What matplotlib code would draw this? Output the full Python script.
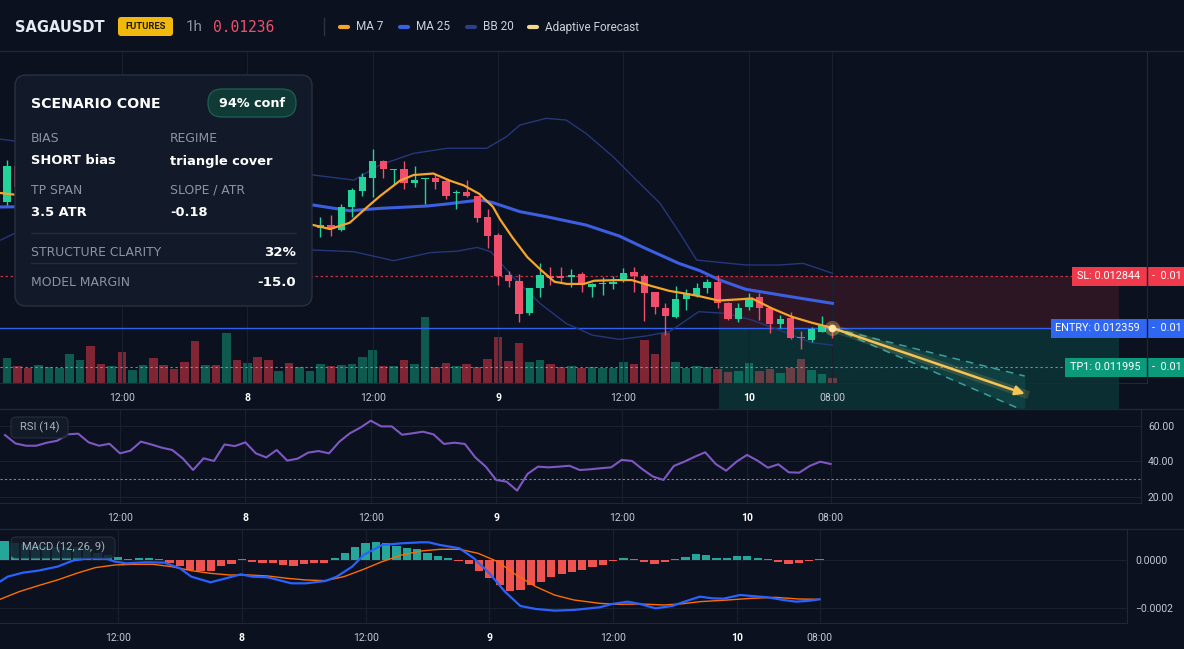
import numpy as np
import matplotlib
matplotlib.use("Agg")
import matplotlib.pyplot as plt
from matplotlib.patches import FancyBboxPatch, Rectangle
from matplotlib.lines import Line2D
from matplotlib.transforms import Affine2D

plt.rcParams['font.family'] = ['Roboto', 'DejaVu Sans']

# ---------------- data ----------------
# hourly candles, index 0 = day 7 01:00, index 79 = day 10 08:00
# prices in thousandths of USDT; candles 2..29 sit behind the info card
nan = np.nan
open_k = [13.534, 13.870] + [nan] * 28 + [
    13.289, 13.320, 13.273, 13.484, 13.637, 13.761, 13.917, 13.833, 13.839, 13.715,
    13.746, 13.761, 13.733, 13.615, 13.631, 13.590, 13.391, 13.226, 12.853, 12.797,
    12.496, 12.729, 12.847, 12.847, 12.838, 12.859, 12.744, 12.769, 12.769, 12.806,
    12.878, 12.844, 12.691, 12.542, 12.464, 12.626, 12.667, 12.735, 12.785, 12.589,
    12.443, 12.552, 12.645, 12.542, 12.396, 12.449, 12.272, 12.247, 12.325, 12.362]
high_k = [13.926, 13.900] + [nan] * 28 + [
    13.391, 13.413, 13.516, 13.662, 13.808, 14.026, 13.930, 13.842, 13.920, 13.870,
    13.761, 13.792, 13.746, 13.646, 13.740, 13.595, 13.466, 13.242, 12.894, 12.859,
    12.735, 12.962, 12.931, 12.931, 12.906, 12.884, 12.782, 12.838, 12.847, 12.922,
    12.931, 12.859, 12.698, 12.589, 12.751, 12.719, 12.775, 12.813, 12.853, 12.605,
    12.589, 12.682, 12.689, 12.552, 12.480, 12.511, 12.334, 12.365, 12.471, 12.387]
low_k = [13.506, 13.640] + [nan] * 28 + [
    13.211, 13.217, 13.265, 13.397, 13.590, 13.584, 13.755, 13.693, 13.656, 13.677,
    13.516, 13.656, 13.562, 13.469, 13.584, 13.351, 13.102, 12.760, 12.744, 12.418,
    12.480, 12.651, 12.760, 12.791, 12.744, 12.698, 12.645, 12.667, 12.723, 12.791,
    12.698, 12.427, 12.489, 12.295, 12.449, 12.527, 12.651, 12.682, 12.542, 12.434,
    12.418, 12.527, 12.434, 12.309, 12.356, 12.253, 12.160, 12.231, 12.325, 12.262]
close_k = [13.870, 13.674] + [nan] * 28 + [
    13.320, 13.279, 13.484, 13.646, 13.771, 13.917, 13.839, 13.842, 13.715, 13.740,
    13.761, 13.724, 13.593, 13.624, 13.593, 13.382, 13.217, 12.844, 12.800, 12.489,
    12.735, 12.853, 12.822, 12.828, 12.850, 12.766, 12.769, 12.782, 12.791, 12.869,
    12.844, 12.688, 12.552, 12.474, 12.626, 12.682, 12.729, 12.791, 12.589, 12.443,
    12.542, 12.636, 12.542, 12.396, 12.443, 12.269, 12.262, 12.350, 12.387, 12.359]

volume = [75, 52, 46, 55, 49, 44, 88, 70, 112, 58,
          52, 94, 40, 55, 76, 55, 43, 64, 127, 55,
          55, 151, 70, 61, 79, 70, 37, 61, 49, 37,
          58, 52, 55, 58, 79, 100, 52, 52, 70, 58,
          198, 49, 61, 52, 58, 49, 73, 139, 67, 121,
          64, 70, 58, 49, 52, 46, 49, 46, 46, 64,
          58, 130, 88, 151, 64, 44, 52, 49, 43, 34,
          37, 61, 37, 43, 31, 45, 73, 40, 28, 16]
vol_side = ("GRRGGGGGRR" "GRGGRRRRRG" "RGRGRRGRGG" "GRGGGGRGRG"
            "GRRGRRRRRR" "GGRRGRGGGG" "RRRRGGGGRR" "GGRRGRRGGR")

# moving averages / bands read at these hour positions
ma7_x = [-0.6, 1, 29.3, 30.9, 32.8, 34.4, 35.7, 37.6, 38.9, 40.8, 42.4, 43.7, 45.2,
         46.5, 47.2, 48.4, 49.8, 51.1, 52.4, 53.6, 55.2, 56.2, 58.4, 59.8, 61.7,
         63.4, 64.8, 66.3, 68.1, 70.0, 71.3, 73.2, 75.1, 77.0, 79.0]
ma7_k = [13.618, 13.60, 13.320, 13.282, 13.341, 13.481, 13.590, 13.733, 13.786, 13.800,
         13.733, 13.690, 13.610, 13.490, 13.370, 13.200, 13.020, 12.900, 12.790, 12.770,
         12.770, 12.800, 12.806, 12.806, 12.750, 12.705, 12.682, 12.655, 12.615, 12.626,
         12.635, 12.542, 12.464, 12.409, 12.359]
ma25_x = [-0.6, 1, 29.3, 32.8, 35.7, 40.2, 42.1, 44.7, 45.5, 46.5, 49.1, 51.6, 55.4,
          58.6, 61.1, 64.3, 66.3, 68.2, 70.7, 73.2, 75.7, 79.0]
ma25_k = [13.488, 13.490, 13.506, 13.453, 13.475, 13.497, 13.516, 13.547, 13.550, 13.528,
          13.444, 13.398, 13.320, 13.217, 13.102, 12.962, 12.894, 12.807, 12.720, 12.680,
          12.640, 12.589]
bb_up_x = [-0.6, 1, 29.3, 33.2, 35.7, 38.9, 42.1, 45.9, 47.8, 49.1, 51.6, 53.5, 55.4,
           58.0, 59.9, 62.5, 64.4, 66.0, 67.5, 70.7, 73.9, 76.2, 79.0]
bb_up_k = [14.12, 14.10, 13.786, 13.739, 13.880, 13.988, 14.035, 14.035, 14.144, 14.253,
           14.315, 14.299, 14.175, 13.957, 13.771, 13.522, 13.242, 12.993, 12.978, 12.947,
           12.947, 12.962, 12.869]
bb_lo_x = [-0.6, 0.8, 29.3, 33.2, 37.0, 40.5, 43.1, 45.0, 46.3, 48.4, 51.0, 53.5, 56.0,
           58.6, 61.1, 63.4, 66.2, 68.8, 71.3, 73.9, 77.0, 79.0]
bb_lo_k = [13.180, 13.245, 13.086, 13.071, 12.987, 13.062, 13.076, 13.111, 13.071, 12.838,
           12.589, 12.402, 12.293, 12.253, 12.284, 12.325, 12.511, 12.496, 12.433, 12.340,
           12.222, 12.200]

rsi = [54.9, 50.2, 48.9, 48.9, 50.6, 51.7, 55.3, 55.7, 50.8, 48.9,
       50.0, 44.6, 46.1, 51.2, 49.6, 47.8, 46.5, 41.8, 35.2, 41.8,
       40.3, 49.6, 48.7, 50.8, 44.6, 42.3, 46.5, 40.5, 41.6, 45.0,
       45.9, 44.6, 51.2, 55.9, 59.1, 63.0, 59.8, 59.8, 55.1, 55.9,
       56.8, 55.3, 49.9, 50.6, 49.9, 42.3, 37.1, 29.6, 28.6, 23.6,
       33.0, 37.1, 36.7, 37.1, 37.6, 35.2, 35.6, 36.2, 36.7, 40.9,
       40.3, 35.6, 31.5, 29.6, 37.5, 39.9, 42.7, 45.2, 38.6, 34.8,
       39.9, 43.7, 40.5, 36.5, 38.4, 33.9, 33.7, 37.5, 39.9, 38.6]

# MACD values in units of 1e-4
macd_hist = [0.79, 0.72, 0.66, 0.62, 0.58, 0.55, 0.55, 0.52, 0.42, 0.30,
             0.20, 0.14, 0.03, 0.07, 0.10, 0.04, -0.11, -0.25, -0.42, -0.44,
             -0.46, -0.25, -0.17, 0.04, -0.08, -0.14, -0.11, -0.21, -0.24, -0.18,
             -0.14, -0.11, 0.08, 0.29, 0.53, 0.69, 0.75, 0.69, 0.58, 0.51,
             0.44, 0.31, 0.17, 0.08, -0.04, -0.18, -0.46, -0.76, -1.04, -1.28,
             -1.25, -1.04, -0.90, -0.69, -0.58, -0.51, -0.42, -0.28, -0.21, -0.04,
             0.07, 0.04, -0.08, -0.15, -0.08, 0.04, 0.14, 0.25, 0.21, 0.08,
             0.08, 0.17, 0.17, 0.10, 0.06, -0.08, -0.15, -0.13, -0.04, 0.04]
macd_x = [-0.44, 0.31, 1.79, 3.27, 5.13, 6.61, 8.1, 9.95, 10.7, 11.8, 13.7, 15.5, 17.0,
          18.1, 19.96, 21.1, 22.9, 24.0, 25.5, 27.8, 29.2, 31.1, 32.2, 33.7, 34.8, 36.6,
          38.5, 40.4, 41.1, 42.2, 44.1, 45.5, 47.0, 48.5, 50.0, 51.5, 53.3, 55.2, 57.7,
          58.9, 60.4, 61.6, 63.1, 64.7, 66.2, 67.4, 68.6, 69.7, 71.3, 72.4, 74.0, 75.5,
          76.7, 77.8, 79.0]
macd_line = [-0.90, -0.694, -0.528, -0.444, -0.278, -0.028, 0.069, 0.042, -0.069, -0.139,
             -0.097, -0.111, -0.347, -0.694, -0.931, -0.806, -0.597, -0.694, -0.722, -0.972,
             -0.972, -0.875, -0.694, -0.278, 0.208, 0.625, 0.694, 0.736, 0.736, 0.625,
             0.486, 0.069, -0.556, -1.319, -1.917, -2.04, -2.11, -2.08, -1.97, -1.833,
             -1.736, -1.833, -2.014, -1.917, -1.694, -1.528, -1.597, -1.611, -1.458, -1.50,
             -1.556, -1.667, -1.736, -1.708, -1.639]
signal_x = [-0.44, 1.42, 3.27, 5.13, 6.98, 8.8, 10.7, 12.5, 14.4, 16.2, 18.1, 19.96, 21.8,
            23.7, 25.5, 27.4, 29.2, 31.1, 32.9, 34.8, 36.6, 38.5, 40.4, 42.2, 44.1, 45.9,
            47.8, 49.6, 51.5, 53.3, 55.2, 57.7, 59.2, 61.6, 63.9, 65.5, 67.4, 70.1, 72.4,
            74.7, 77.0, 79.0]
signal_line = [-1.639, -1.319, -1.069, -0.833, -0.556, -0.319, -0.208, -0.181, -0.181,
               -0.278, -0.444, -0.556, -0.625, -0.625, -0.667, -0.764, -0.833, -0.861,
               -0.694, -0.389, -0.069, 0.208, 0.375, 0.444, 0.444, 0.278, -0.069, -0.625,
               -1.111, -1.458, -1.667, -1.806, -1.847, -1.833, -1.875, -1.833, -1.736,
               -1.667, -1.597, -1.556, -1.625, -1.639]

sl, entry, tp1 = 0.012844, 0.012359, 0.011995
last_price = "0.01236"
zone_start, zone_end = 68.1, 106.4
forecast_x = [79, 97.4]
forecast_mid_k = [12.359, 11.745]
forecast_hi_k = [12.359, 11.911]
forecast_lo_k = [12.359, 11.584]

tick_pos = [11, 23, 35, 47, 59, 71, 79]
tick_lab = ['12:00', '8', '12:00', '9', '12:00', '10', '08:00']
day_labels = ['8', '9', '10']

card_pairs = [("BIAS", "SHORT bias", "REGIME", "triangle cover"),
              ("TP SPAN", "3.5 ATR", "SLOPE / ATR", "-0.18")]
card_stats = [("STRUCTURE CLARITY", "32%"), ("MODEL MARGIN", "-15.0")]
confidence = "94% conf"

# ---------------- style ----------------
W, H = 1184, 649
BG = '#0b111e'
GRID = '#192130'
BORDER = '#1f2837'
TICK = '#c3cad4'
GREEN, RED = '#22d39a', '#f14e6b'
VOL_G, VOL_R = '#0e5a4f', '#7f2534'
ORANGE, BLUE, BAND, GOLD = '#f5a52a', '#3b5fe0', '#25377a', '#f5c456'
CARD_FONT = 'DejaVu Sans'

fig = plt.figure(figsize=(W / 100, H / 100), dpi=100, facecolor=BG)
PX = Affine2D().scale(1, -1).translate(0, H)   # reference pixels, y down


def panel(top, bottom, right):
    return fig.add_axes([0, 1 - bottom / H, right / W, (bottom - top) / H])


def style(a, xlim):
    a.set_facecolor(BG)
    a.set_xlim(*xlim)
    a.set_xticks(tick_pos)
    a.set_xticklabels(tick_lab)
    a.tick_params(axis='both', length=0, labelsize=7.5, colors=TICK)
    a.tick_params(axis='x', pad=7)
    for lab in a.get_xticklabels():
        if lab.get_text() in day_labels:
            lab.set_fontweight('bold')
            lab.set_color('white')
    a.grid(True, color=GRID, lw=0.8)
    a.spines['left'].set_visible(False)
    for s in ['top', 'bottom', 'right']:
        a.spines[s].set_color(BORDER)


ax = panel(51, 383, 1147)
vol_ax = ax.twinx()
rsi_ax = panel(409, 503, 1141)
macd_ax = panel(529, 623, 1127)

# ---- main price panel ----
style(ax, (-0.67, 109.1))
ax.grid(axis='y', visible=False)
ax.set_yticks([])
ax.set_ylim(0.011846, 0.014943)
ax.patch.set_visible(False)
vol_ax.set_zorder(ax.get_zorder() - 1)
vol_ax.patch.set_visible(True)
vol_ax.patch.set_facecolor(BG)
for s in vol_ax.spines.values():
    s.set_visible(False)
vol_ax.set_yticks([])

idx = np.arange(len(volume))
vol_ax.bar(idx, volume, width=0.82,
           color=[VOL_G if s == 'G' else VOL_R for s in vol_side])
vol_ax.set_ylim(0, 996)

o = np.array(open_k) * 1e-3
hi = np.array(high_k) * 1e-3
lo = np.array(low_k) * 1e-3
c = np.array(close_k) * 1e-3
ok = ~np.isnan(o)
cols = np.where(c >= o, GREEN, RED)
ax.vlines(idx[ok], lo[ok], hi[ok], colors=cols[ok], lw=1, zorder=4)
ax.bar(idx[ok], np.maximum(np.abs(c - o), 1.6e-8)[ok], bottom=np.minimum(o, c)[ok],
       width=0.7, color=cols[ok], zorder=5)

ax.plot(bb_up_x, np.array(bb_up_k) * 1e-3, color=BAND, lw=1, zorder=3)
ax.plot(bb_lo_x, np.array(bb_lo_k) * 1e-3, color=BAND, lw=1, zorder=3)
ax.plot(ma25_x, np.array(ma25_k) * 1e-3, color=BLUE, lw=2.2, zorder=3.5)
ax.plot(ma7_x, np.array(ma7_k) * 1e-3, color=ORANGE, lw=1.6, zorder=7)

ax.axhline(sl, color='#f23645', lw=0.9, ls=(0, (2, 2)), alpha=0.8, zorder=2)
ax.axhline(entry, color='#2f62f0', lw=1, zorder=2)
ax.axhline(tp1, color='#86c2b6', lw=0.8, ls=(0, (2, 2.5)), alpha=0.75, zorder=2)

fc_lo = np.array(forecast_lo_k) * 1e-3
fc_hi = np.array(forecast_hi_k) * 1e-3
fc_mid = np.array(forecast_mid_k) * 1e-3
ax.add_patch(Rectangle((zone_start, entry), zone_end - zone_start, sl - entry,
                       color='#f23645', alpha=0.15, lw=0, zorder=1))
ax.add_patch(Rectangle((zone_start, fc_lo[-1]), zone_end - zone_start, entry - fc_lo[-1],
                       color='#0aa683', alpha=0.2, lw=0, zorder=1, clip_on=False))

cone = ax.fill_between(forecast_x, fc_lo, fc_hi, color='#3fb3a8', alpha=0.13,
                       lw=0, zorder=7)
cone.set_clip_on(False)
for edge in (fc_hi, fc_lo):
    ax.plot(forecast_x, edge, color='#3b9e9c', lw=1.1, ls=(0, (5, 4)),
            zorder=7, clip_on=False)
ax.plot(forecast_x, fc_mid, color=GOLD, lw=6, alpha=0.15, zorder=8, clip_on=False)
ax.annotate('', xy=(forecast_x[1], fc_mid[1]), xytext=(forecast_x[0], fc_mid[0]),
            arrowprops=dict(arrowstyle='-|>', color=GOLD, lw=1.8, mutation_scale=14,
                            shrinkA=0, shrinkB=0),
            annotation_clip=False, zorder=9)
ax.scatter([forecast_x[0]], [fc_mid[0]], s=120, color='#ffd27a', alpha=0.3, lw=0, zorder=10)
ax.scatter([forecast_x[0]], [fc_mid[0]], s=30, color='#ffe4a6', lw=0, zorder=11)

# ---- RSI ----
style(rsi_ax, (-0.48, 108.7))
rsi_ax.set_ylim(16.6, 69.6)
rsi_ax.set_yticks([20, 40, 60])
rsi_ax.set_yticklabels(['20.00', '40.00', '60.00'])
rsi_ax.yaxis.tick_right()
rsi_ax.tick_params(axis='y', pad=5)
rsi_ax.axhline(30, color='#7f8896', lw=0.8, ls=(0, (2, 2)))
rsi_ax.plot(np.arange(len(rsi)), rsi, color='#7e57c2', lw=1.5)

# ---- MACD ----
style(macd_ax, (-0.44, 108.8))
macd_ax.set_ylim(-0.0002625, 0.000129)
macd_ax.set_yticks([-0.0002, 0])
macd_ax.set_yticklabels(['\u22120.0002', '0.0000'])
macd_ax.yaxis.tick_right()
macd_ax.tick_params(axis='y', pad=6)
h = np.array(macd_hist) * 1e-4
macd_ax.bar(np.arange(len(h)), h, width=0.8,
            color=np.where(h >= 0, '#26a69a', '#ef5350'), zorder=2)
macd_ax.plot(signal_x, np.array(signal_line) * 1e-4, color='#ff6d00', lw=1.0, zorder=3)
macd_ax.plot(macd_x, np.array(macd_line) * 1e-4, color='#2962ff', lw=1.6, zorder=4)

# ---- full-width separators ----
for y in (51, 409, 529):
    fig.add_artist(Line2D([0, W], [y, y], transform=PX, color=BORDER, lw=1))

# ---- header ----
fig.text(15, 27, "SAGAUSDT", transform=PX, color='#e6ebf2', fontsize=10.5,
         family=CARD_FONT, fontweight='bold', va='center')
fig.add_artist(FancyBboxPatch((118, 17), 55, 19, boxstyle="round,pad=0,rounding_size=3",
                              transform=PX, fc='#f0b90b', ec='none'))
fig.text(145.5, 26.5, "FUTURES", transform=PX, color='#1b1b1b', fontsize=6.8,
         fontweight='bold', ha='center', va='center')
fig.text(186, 27, "1h", transform=PX, color='#8b949e', fontsize=11, va='center')
fig.text(213, 27, last_price, transform=PX, color='#f0506a', fontsize=10.5,
         family='DejaVu Sans Mono', va='center')
fig.add_artist(Line2D([324, 324], [18, 35], transform=PX, color='#2a3343', lw=1))
legend_items = [("MA 7", ORANGE, 339), ("MA 25", BLUE, 399),
                ("BB 20", '#2c3f86', 466), ("Adaptive Forecast", '#f3d98f', 528)]
for name, col, x0 in legend_items:
    fig.add_artist(Line2D([x0 + 1, x0 + 9], [27, 27], transform=PX, color=col, lw=3,
                          solid_capstyle='round'))
    fig.text(x0 + 17, 27, name, transform=PX, color='#c9d1d9', fontsize=8.5, va='center')

# ---- level labels at right ----
level_labels = [("SL", sl, '#f03a4c', 1072), ("ENTRY", entry, '#2f66f2', 1051),
                ("TP1", tp1, '#0b9a7b', 1065)]
for name, price, col, x0 in level_labels:
    yc = H - ax.transData.transform((0, price))[1]
    fig.add_artist(Rectangle((x0, yc - 9.5), W - x0, 19, transform=PX, fc=col, ec='none',
                             zorder=5))
    fig.add_artist(Line2D([1147, 1147], [yc - 9.5, yc + 9.5], transform=PX,
                          color='#14203a', lw=1, zorder=6))
    fig.text(1140, yc, f"{name}: {price:.6f}", transform=PX, color='white', fontsize=7.8,
             ha='right', va='center', zorder=7)
    fig.text(1152, yc, "-  0.01", transform=PX, color='white', fontsize=7.8,
             ha='left', va='center', zorder=7)

# ---- indicator badges ----
for (x0, y0, w, hgt, text) in [(11, 417, 57, 21, "RSI (14)"),
                               (11, 537, 104, 21, "MACD (12, 26, 9)")]:
    fig.add_artist(FancyBboxPatch((x0, y0), w, hgt, boxstyle="round,pad=0,rounding_size=5",
                                  transform=PX, fc='#141c2a', ec='#2a3342', lw=0.8,
                                  alpha=0.85, zorder=5))
    fig.text(x0 + w / 2, y0 + hgt / 2, text, transform=PX, color='#aab3c0', fontsize=8,
             ha='center', va='center', zorder=6)

# ---- scenario card ----
fig.add_artist(FancyBboxPatch((15, 75), 297, 231, boxstyle="round,pad=0,rounding_size=11",
                              transform=PX, fc='#121a29', ec='#283142', lw=1, zorder=5))
fig.text(31, 104, "SCENARIO CONE", transform=PX, color='white', fontsize=10.2,
         family=CARD_FONT, fontweight='bold', va='center', zorder=6)
fig.add_artist(FancyBboxPatch((208, 89), 88, 28, boxstyle="round,pad=0,rounding_size=14",
                              transform=PX, fc='#0f3a36', ec='#1e5a52', lw=1, zorder=6))
fig.text(252, 103.5, confidence, transform=PX, color='white', fontsize=9.2,
         family=CARD_FONT, fontweight='bold', ha='center', va='center', zorder=7)
for row, (l1, v1, l2, v2) in enumerate(card_pairs):
    y = 139 + row * 51
    for x, lab, val in ((31, l1, v1), (170, l2, v2)):
        fig.text(x, y, lab, transform=PX, color='#8a94a4', fontsize=8.9, family=CARD_FONT,
                 va='center', zorder=6)
        fig.text(x, y + 22, val, transform=PX, color='white', fontsize=9.4,
                 family=CARD_FONT, fontweight='bold', va='center', zorder=6)
for k, (lab, val) in enumerate(card_stats):
    y = 252 + k * 30
    fig.add_artist(Line2D([31, 296], [y - 19, y - 19], transform=PX,
                          color='#232c3c', lw=1, zorder=6))
    fig.text(31, y, lab, transform=PX, color='#8a94a4', fontsize=8.9, family=CARD_FONT,
             va='center', zorder=6)
    fig.text(296, y + 1, val, transform=PX, color='white', fontsize=9.6,
             family=CARD_FONT, fontweight='bold', ha='right', va='center', zorder=6)

fig.savefig("out.png", dpi=100, facecolor=BG)
